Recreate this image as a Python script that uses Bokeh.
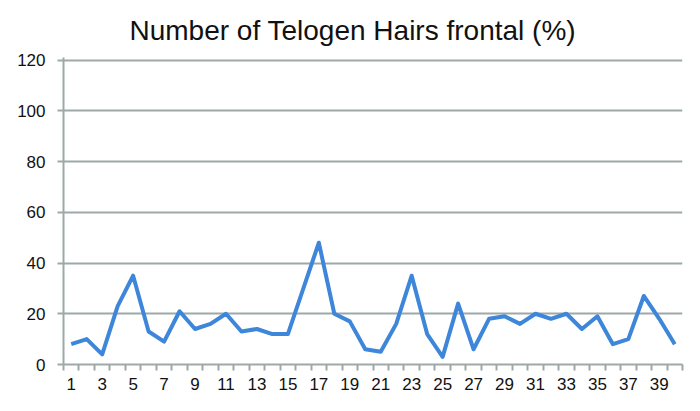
from bokeh.plotting import figure
from bokeh.models import FixedTicker, Range1d
from bokeh.embed import file_html
from bokeh.resources import INLINE

subjects = list(range(1, 41))
telogen_pct = [8, 10, 4, 23, 35, 13, 9, 21, 14, 16,
               20, 13, 14, 12, 12, 30, 48, 20, 17, 6,
               5, 16, 35, 12, 3, 24, 6, 18, 19, 16,
               20, 18, 20, 14, 19, 8, 10, 27, 18, 8]
y_ticks = [0, 20, 40, 60, 80, 100, 120]
x_label_ticks = list(range(1, 41, 2))
title_text = "Number of Telogen Hairs frontal (%)"

FONT = "Liberation Sans"
GRID = "#9ea8a8"

p = figure(frame_width=619, frame_height=307, output_backend="svg",
           toolbar_location=None, x_range=Range1d(0.5, 40.5),
           y_range=Range1d(0, 121), min_border_left=63, min_border_right=9,
           min_border_bottom=24, min_border_top=18)
p.title.text = title_text
p.title.align = "left"
p.title.offset = 66
p.title.text_font = FONT
p.title.text_font_size = "28px"
p.title.text_font_style = "normal"
p.title.text_color = "#111111"
p.title.standoff = 24
p.outline_line_color = None

p.line(subjects, telogen_pct, line_color="#3d86da", line_width=4, line_join="round")

p.xgrid.visible = False
p.ygrid.ticker = FixedTicker(ticks=y_ticks[1:])
p.ygrid.grid_line_color = GRID
p.ygrid.grid_line_width = 2

xa = p.xaxis[0]
xa.ticker = FixedTicker(ticks=x_label_ticks, minor_ticks=[i + 0.5 for i in range(0, 41)])
xa.major_tick_out = 0
xa.major_tick_in = 0
xa.minor_tick_out = 6
xa.minor_tick_in = 0
xa.minor_tick_line_color = GRID
xa.minor_tick_line_width = 2
xa.axis_line_color = GRID
xa.axis_line_width = 2
xa.major_label_text_font = FONT
xa.major_label_text_font_size = "17px"
xa.major_label_text_color = "#111111"
xa.major_label_standoff = 7

ya = p.yaxis[0]
ya.ticker = FixedTicker(ticks=y_ticks, minor_ticks=[])
ya.major_tick_out = 6
ya.major_tick_in = 0
ya.major_tick_line_color = GRID
ya.major_tick_line_width = 2
ya.axis_line_color = GRID
ya.axis_line_width = 2
ya.major_label_text_font = FONT
ya.major_label_text_font_size = "17px"
ya.major_label_text_color = "#111111"
ya.major_label_standoff = 12

open("out.html", "w").write(file_html(p, INLINE))
